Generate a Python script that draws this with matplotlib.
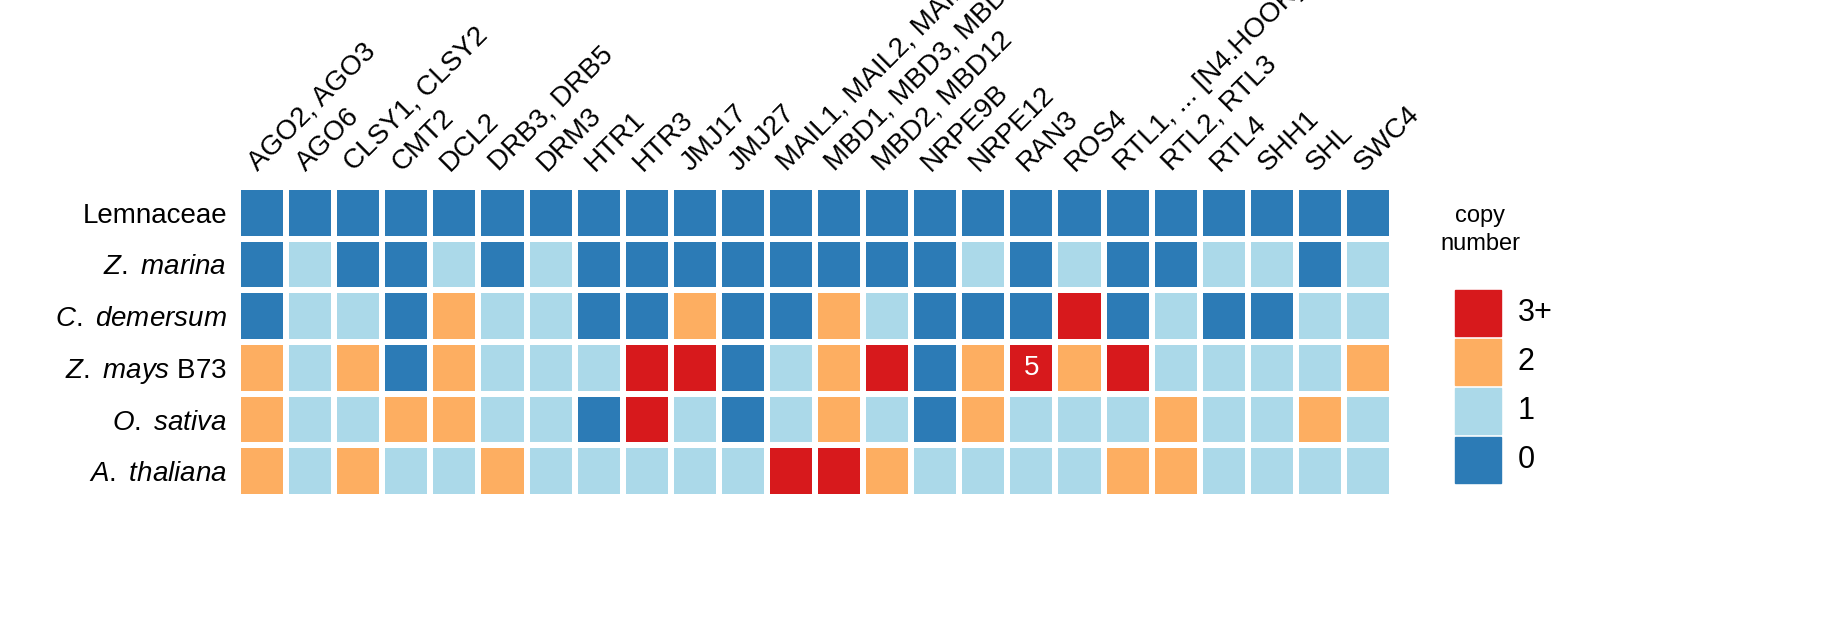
import matplotlib
matplotlib.use("Agg")
import matplotlib.pyplot as plt
from matplotlib.colors import ListedColormap, BoundaryNorm
from matplotlib.patches import Rectangle
import numpy as np

plt.rcParams['font.family'] = ['Liberation Sans', 'DejaVu Sans']
plt.rcParams['mathtext.fontset'] = 'custom'
plt.rcParams['mathtext.it'] = 'Liberation Sans:italic'
plt.rcParams['mathtext.rm'] = 'Liberation Sans'

genes = ["AGO2, AGO3", "AGO6", "CLSY1, CLSY2", "CMT2", "DCL2", "DRB3, DRB5", "DRM3",
         "HTR1", "HTR3", "JMJ17", "JMJ27", "MAIL1, MAIL2, MAIL3", "MBD1, MBD3, MBD4",
         "MBD2, MBD12", "NRPE9B", "NRPE12", "RAN3", "ROS4", "RTL1, ... [N4.HOOK]",
         "RTL2, RTL3", "RTL4", "SHH1", "SHL", "SWC4"]
species = ["Lemnaceae", r"$\it{Z.}$ $\it{marina}$", r"$\it{C.}$ $\it{demersum}$",
           r"$\it{Z.}$ $\it{mays}$ B73", r"$\it{O.}$ $\it{sativa}$", r"$\it{A.}$ $\it{thaliana}$"]
lemnaceae   = [0]*24
z_marina    = [0,1,0,0,1,0,1,0,0,0,0,0,0,0,0,1,0,1,0,0,1,1,0,1]
c_demersum  = [0,1,1,0,2,1,1,0,0,2,0,0,2,1,0,0,0,3,0,1,0,0,1,1]
z_mays      = [2,1,2,0,2,1,1,1,3,3,0,1,2,3,0,2,5,2,3,1,1,1,1,2]
o_sativa    = [2,1,1,2,2,1,1,0,3,1,0,1,2,1,0,2,1,1,1,2,1,1,2,1]
a_thaliana  = [2,1,2,1,1,2,1,1,1,1,1,3,3,2,1,1,1,1,2,2,1,1,1,1]
data = np.array([lemnaceae, z_marina, c_demersum, z_mays, o_sativa, a_thaliana])

colors = ["#2c7bb6", "#abd9e9", "#fdae61", "#d7191c"]
cmap = ListedColormap(colors)
norm = BoundaryNorm([-0.5, 0.5, 1.5, 2.5, 100], 4)

fig = plt.figure(figsize=(18.33, 6.26), dpi=100)
ax = fig.add_axes([238/1833, 1-497/626, (1392-238)/1833, (497-187)/626])
ax.pcolormesh(np.arange(25), np.arange(7), data, cmap=cmap, norm=norm,
              edgecolors='white', linewidth=4)
ax.set_xlim(0, 24); ax.set_ylim(6, 0)
for r in range(6):
    for c in range(24):
        if data[r, c] > 3:
            ax.text(c+0.5, r+0.5, str(data[r, c]), ha='center', va='center',
                    color='white', fontsize=20)
ax.set_xticks(np.arange(24)+0.5)
ax.set_xticklabels(genes, rotation=45, ha='left', va='bottom', rotation_mode='anchor',
                   fontsize=20)
ax.xaxis.tick_top()
ax.set_yticks(np.arange(6)+0.5)
ax.set_yticklabels(species, fontsize=20)
ax.tick_params(length=0, pad=8)
for s in ax.spines.values():
    s.set_visible(False)

# legend
fig.text(1480/1833, 1-230/626, "copy\nnumber", ha='center', va='center', fontsize=17,
         linespacing=1.3)
labs = ["3+", "2", "1", "0"]
for i, (lab, col) in enumerate(zip(labs, colors[::-1])):
    y0 = 290 + i*49
    fig.patches.append(Rectangle((1455/1833, 1-(y0+46)/626), 46/1833, 46/626,
                                 transform=fig.transFigure, color=col))
    fig.text(1518/1833, 1-(y0+23)/626, lab, ha='left', va='center', fontsize=22)

fig.savefig("out.png", dpi=100)
